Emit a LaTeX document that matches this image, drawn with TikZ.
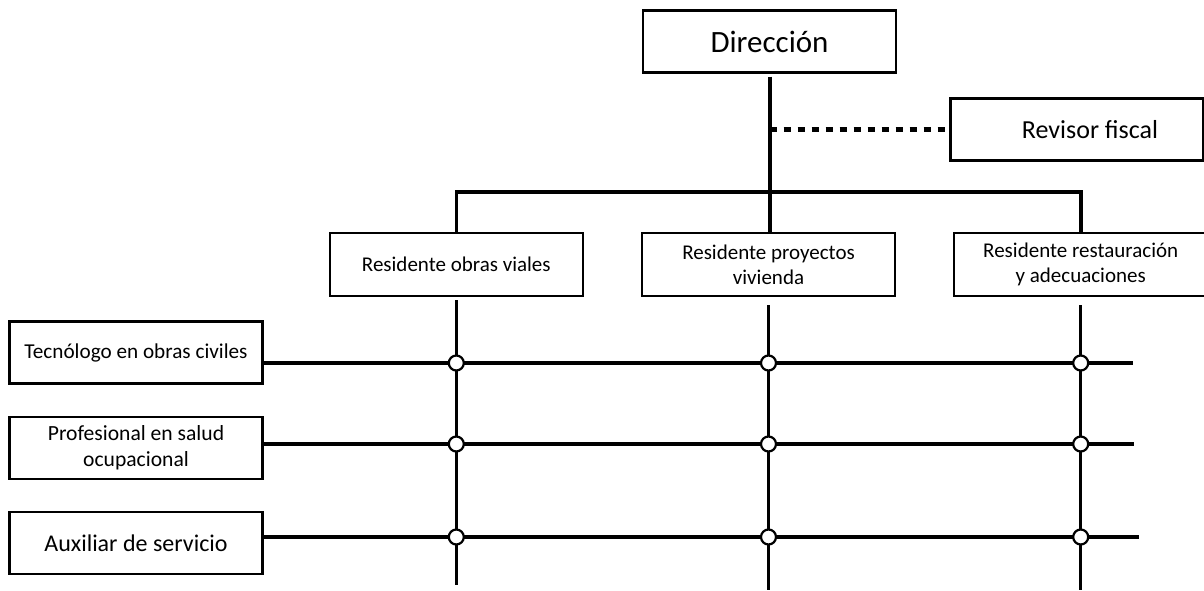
\documentclass[tikz,border=0pt]{standalone}
\usepackage{fontspec}
\setmainfont{Carlito}
\usetikzlibrary{positioning}

\begin{document}
\begin{tikzpicture}[x=0.5pt, y=-0.5pt,
  main/.style = {draw, line width=1.1pt, minimum width=126.5pt, minimum height=31pt, inner sep=0pt, align=center, font=\fontsize{10.5}{12.5}\selectfont},
  link/.style = {line width=1.7pt},
  knot/.style = {draw, circle, fill=white, line width=1.1pt, minimum size=7.5pt, inner sep=0pt}]
\useasboundingbox (0,0) rectangle (1204,590);
% top
\node[main, font=\fontsize{15.5}{18}\selectfont] (dir) at (769.5,41.5) {Dirección};
\node[main, font=\fontsize{13}{15}\selectfont] (rev) at (1077,129.5) {\hspace*{13pt}Revisor fiscal};
% residentes
\node[main, minimum height=31.5pt] (r2) at (768.5,264.5) {Residente proyectos\\vivienda};
\node[main, minimum height=31.5pt] (r1) [left=28.5pt of r2] {Residente obras viales};
\node[main, minimum height=31.5pt] (r3) [right=28.5pt of r2] {Residente restauración\\y adecuaciones};
% apoyo
\node[main, font=\fontsize{10.6}{12.5}\selectfont] (tA) at (136,352.5) {Tecnólogo en obras civiles};
\node[main, font=\fontsize{10.8}{13}\selectfont] (tB) [below=15.5pt of tA] {Profesional en salud\\ocupacional};
\node[main, font=\fontsize{12}{14}\selectfont] (tC) [below=15.5pt of tB] {Auxiliar de servicio};
\coordinate (bar) at (769.5,192);
\coordinate (ea) at (1133,363);
\coordinate (eb) at (1134,444);
\coordinate (ec) at (1139,537);
\coordinate (bot) at (0,590);
\coordinate (bot1) at (0,585);
% lines
\draw[link, line width=2pt, shorten <=1.5pt] (dir) -- (dir |- r2.north);
\draw[link] (r1.north) |- (bar);
\draw[link, line width=2pt] (bar) -| (r3.north);
\draw[line width=2.5pt, dash pattern=on 3.5pt off 3.5pt] (dir |- rev.west) -- (rev.west);
\draw[link] (tA.east |- ea) -- (ea);
\draw[link] (tB.east |- eb) -- (eb);
\draw[link] (tC.east |- ec) -- (ec);
\draw[link, shorten <=1.5pt] (r1.south) -- (r1.south |- bot1);
\draw[link, shorten <=4pt] (r2.south) -- (r2.south |- bot);
\draw[link, shorten <=4pt] (r3.south) -- (r3.south |- bot);
\foreach \c in {r1,r2,r3}
  \foreach \r in {ea,eb,ec}
    \node[knot] (\c-\r) at (\c.south |- \r) {};
\end{tikzpicture}
\end{document}
